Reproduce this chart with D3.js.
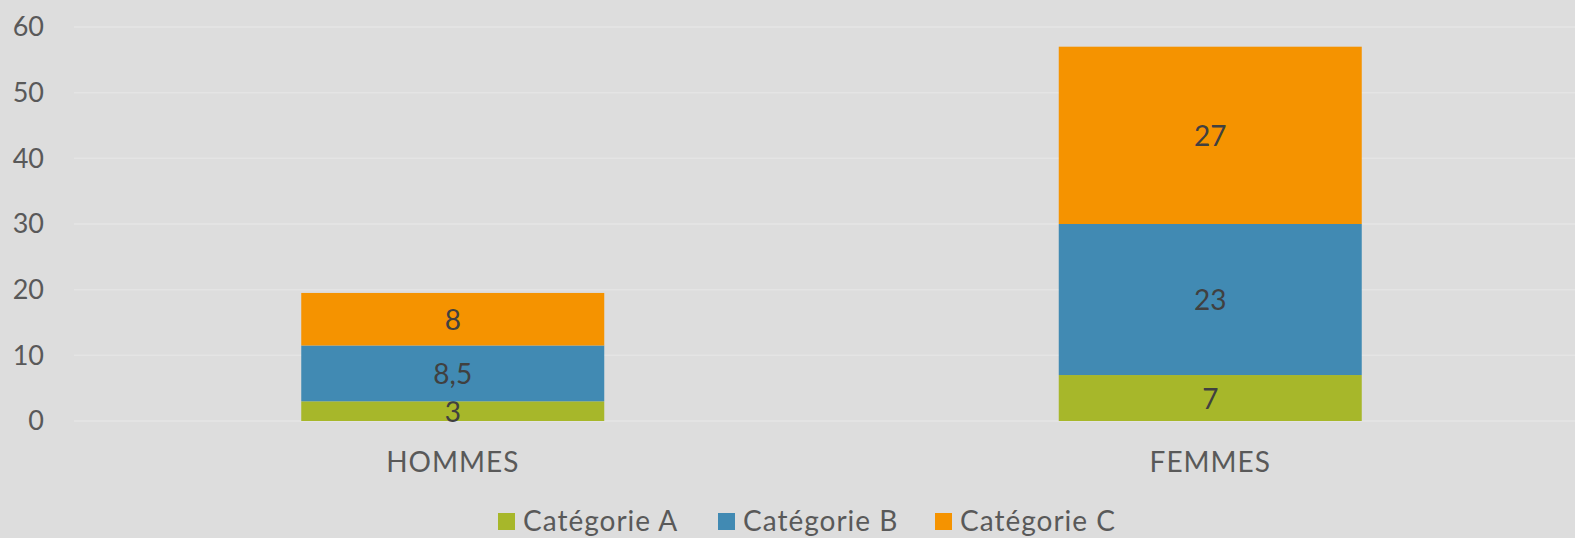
<!DOCTYPE html>
<html>
<head>
<meta charset="utf-8">
<script src="https://cdn.jsdelivr.net/npm/d3@7"></script>
<style>
  body { margin: 0; background: #dddddd; }
  svg { display: block; font-family: Lato, "Open Sans", sans-serif; }
</style>
</head>
<body>
<svg width="1575" height="538"></svg>
<script>
// stacked bars, two groups
const categories = ['HOMMES', 'FEMMES'];
const series = ['Catégorie A', 'Catégorie B', 'Catégorie C'];
const valuesA = [3, 7];
const valuesB = [8.5, 23];
const valuesC = [8, 27];
const yTicks = [0, 10, 20, 30, 40, 50, 60];
const colors = ['#a7b72a', '#418ab3', '#f59300'];

const svg = d3.select('svg');
const W = 1575, H = 538;

svg.append('rect').attr('width', W).attr('height', H).attr('fill', '#dddddd');

const x = d3.scaleBand().domain(categories).range([74, 1589]).paddingInner(0.6).paddingOuter(0.3);
const y = d3.scaleLinear().domain([0, 60]).range([421, 27]);

// table for the stack
const rows = categories.map((c, i) => ({cat: c, 'Catégorie A': valuesA[i], 'Catégorie B': valuesB[i], 'Catégorie C': valuesC[i]}));
const stacked = d3.stack().keys(series)(rows);

// grid
svg.append('g').selectAll('line')
  .data(yTicks)
  .enter().append('line')
    .attr('x1', 74).attr('x2', W)
    .attr('y1', d => y(d)).attr('y2', d => y(d))
    .attr('stroke', '#e4e4e4').attr('stroke-width', 1.5);

// y labels
svg.append('g').selectAll('text')
  .data(yTicks)
  .enter().append('text')
    .attr('x', 44).attr('y', d => y(d))
    .attr('dy', '0.35em')
    .attr('text-anchor', 'end')
    .attr('font-size', 27)
    .attr('fill', '#595959')
    .text(d => d);

const layer = svg.append('g').selectAll('g')
  .data(stacked)
  .enter().append('g')
    .attr('fill', (d, i) => colors[i]);

layer.selectAll('rect')
  .data(d => d)
  .enter().append('rect')
    .attr('x', d => x(d.data.cat))
    .attr('width', x.bandwidth())
    .attr('y', d => y(d[1]))
    .attr('height', d => y(d[0]) - y(d[1]));

layer.selectAll('text')
  .data(d => d.map(s => ({s, key: d.key})))
  .enter().append('text')
    .attr('x', d => x(d.s.data.cat) + x.bandwidth() / 2)
    .attr('y', d => y((d.s[0] + d.s[1]) / 2))
    .attr('dy', '0.38em')
    .attr('text-anchor', 'middle')
    .attr('font-size', 28)
    .attr('fill', '#404040')
    .text(d => String(d.s.data[d.key]).replace('.', ','));

// category labels
svg.append('g').selectAll('text')
  .data(categories)
  .enter().append('text')
    .attr('x', d => x(d) + x.bandwidth() / 2)
    .attr('y', 472)
    .attr('text-anchor', 'middle')
    .attr('font-size', 28)
    .attr('letter-spacing', 1)
    .attr('fill', '#595959')
    .text(d => d);

// legend
const legendX = [498, 718, 935];
const leg = svg.append('g').selectAll('g')
  .data(series)
  .enter().append('g')
    .attr('transform', (d, i) => `translate(${legendX[i]},0)`);
leg.append('rect')
  .attr('x', 0).attr('y', 513).attr('width', 17).attr('height', 17)
  .attr('fill', (d, i) => colors[i]);
leg.append('text')
  .attr('x', 25).attr('y', 531)
  .attr('font-size', 28)
  .attr('letter-spacing', 1)
  .attr('fill', '#595959')
  .text(d => d);
</script>
</body>
</html>
